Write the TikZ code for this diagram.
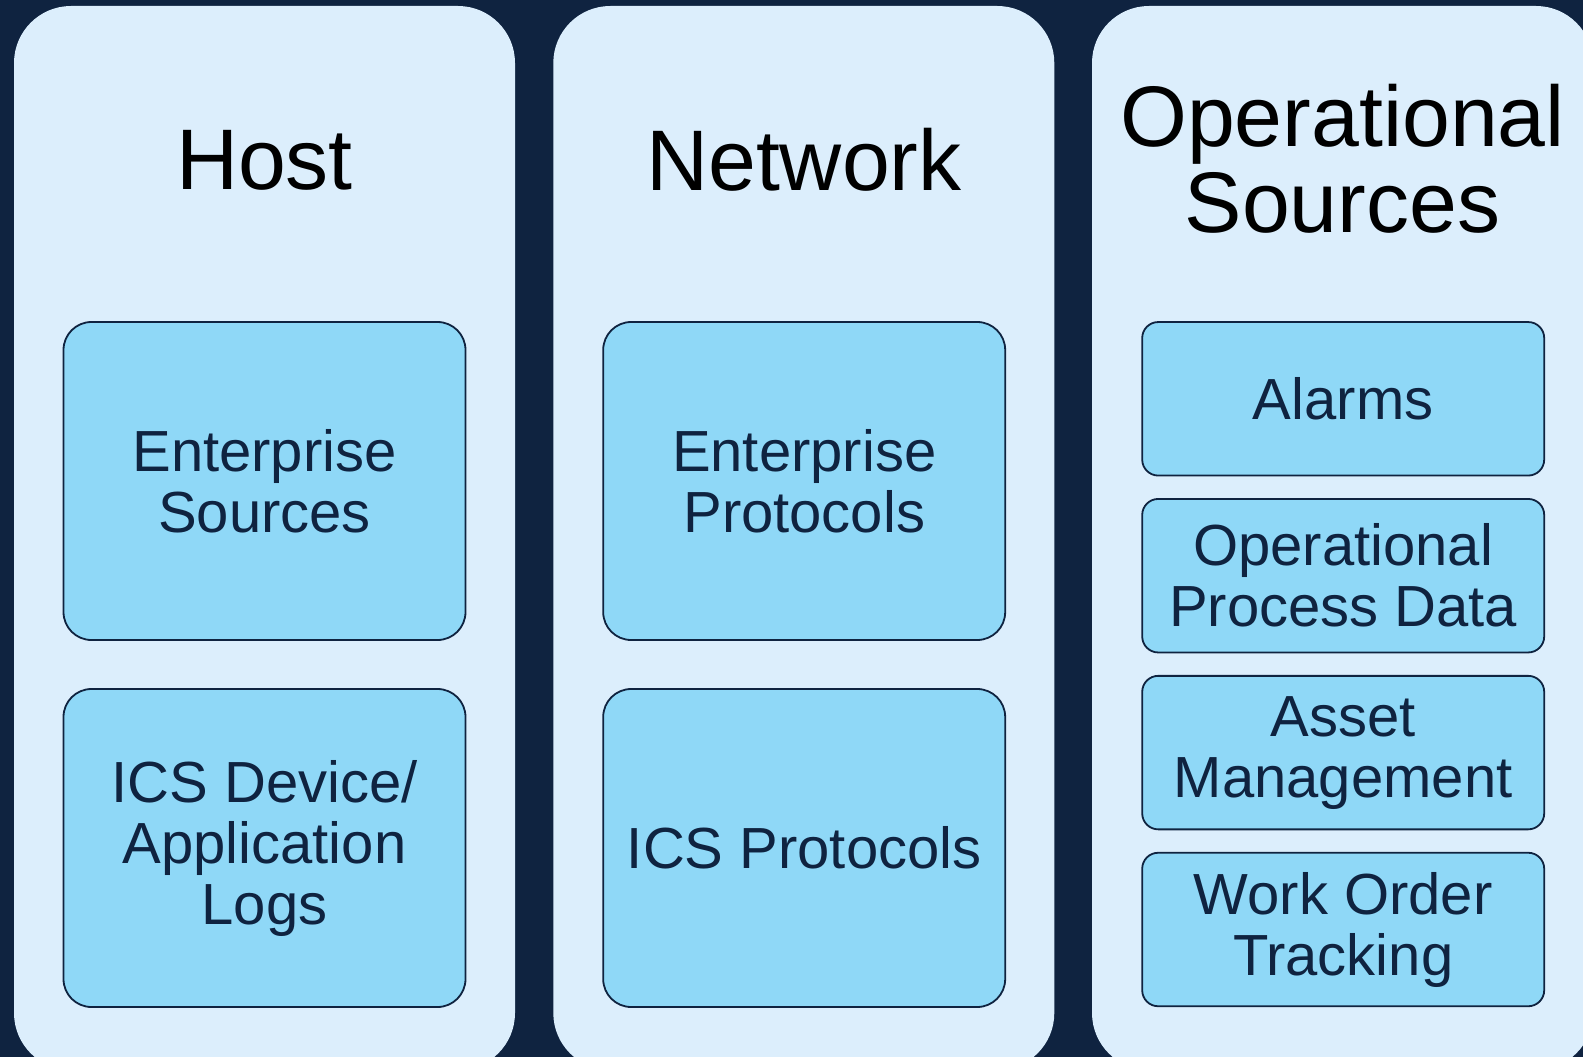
\documentclass[tikz,border=0pt]{standalone}
\usepackage{fontspec}
\setmainfont{Liberation Sans}
\definecolor{navy}{HTML}{0F2340}
\definecolor{panelfill}{HTML}{DCEEFC}
\definecolor{boxfill}{HTML}{8FD8F7}
\tikzset{
  panel/.style={fill=panelfill, draw=none, rounded corners=57pt,
    minimum width=501pt, minimum height=1064pt, inner sep=0pt},
  title/.style={text=black, align=center, inner sep=0pt,
    font=\fontsize{86}{86.3}\selectfont},
  bigbox/.style={fill=boxfill, draw=navy, line width=1.8pt, rounded corners=28pt,
    minimum width=402pt, minimum height=318pt, inner sep=0pt,
    text=navy, align=center, font=\fontsize{58}{61}\selectfont},
  smallbox/.style={fill=boxfill, draw=navy, line width=1.8pt, rounded corners=16pt,
    minimum width=402pt, minimum height=153.5pt, inner sep=0pt,
    text=navy, align=center, font=\fontsize{58}{61}\selectfont}
}
\begin{document}
\begin{tikzpicture}[x=1pt,y=-1pt]
  \useasboundingbox (0,0) rectangle (1583,1057);
  \clip (0,0) rectangle (1583,1057);
  \fill[navy] (0,0) rectangle (1583,1057);

  % three columns
  \node[panel] (hostP) at (264.5,538) {};
  \node[panel] (netP)  at (803.8,538) {};
  \node[panel] (opsP)  at (1342.5,538) {};

  % column headings
  \node[title] (hostT) at (264.5,160) {Host};
  \node[title] (netT)  at (803.8,160) {Network};
  \node[title] (opsT)  at (1342.5,159) {Operational\\Sources};

  % host column
  \node[bigbox] (entSrc) at (264.5,481) {Enterprise\\Sources};
  \node[bigbox] (icsLogs) at (264.5,848) {ICS Device/\\Application\\Logs};

  % network column
  \node[bigbox] (entProt) at (804.2,481) {Enterprise\\Protocols};
  \node[bigbox] (icsProt) at (804.2,848) {ICS Protocols};

  % operational column
  \node[smallbox] (alarms) at (1343.2,398.8) {Alarms};
  \node[smallbox] (procData) at (1343.2,575.7) {Operational\\Process Data};
  \node[smallbox] (asset) at (1343.2,752.6) {Asset\\Management};
  \node[smallbox] (workOrder) at (1343.2,929.5) {Work Order\\Tracking};
\end{tikzpicture}
\end{document}
